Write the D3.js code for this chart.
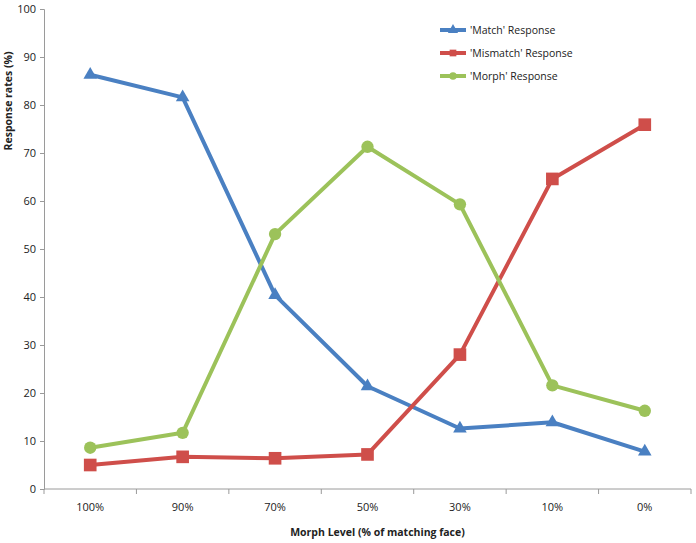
<!DOCTYPE html>
<html>
<head>
<meta charset="utf-8">
<script src="https://cdn.jsdelivr.net/npm/d3@7"></script>
<style>
  body { margin: 0; background: #fff; }
  text { font-family: "Open Sans", "DejaVu Sans", sans-serif; fill: #222; }
</style>
</head>
<body>
<div id="chart"></div>
<script>
var levels = ["100%", "90%", "70%", "50%", "30%", "10%", "0%"];
var matchResp = [86.3, 81.6, 40.4, 21.4, 12.6, 13.9, 7.8];
var mismatchResp = [5.0, 6.7, 6.4, 7.2, 28.0, 64.6, 75.9];
var morphResp = [8.6, 11.7, 53.1, 71.3, 59.3, 21.6, 16.3];
var yTicks = [0, 10, 20, 30, 40, 50, 60, 70, 80, 90, 100];

var W = 696, H = 543;
var margin = { top: 9, right: 5, bottom: 54, left: 44 },
    width = W - margin.left - margin.right,
    height = H - margin.top - margin.bottom;

var series = [
    { name: "'Match' Response", values: matchResp, color: "#4A80C2", shape: d3.symbolTriangle, size: 80 },
    { name: "'Mismatch' Response", values: mismatchResp, color: "#CF4E4A", shape: d3.symbolSquare, size: 160 },
    { name: "'Morph' Response", values: morphResp, color: "#9CC25A", shape: d3.symbolCircle, size: 120 }
];

var svg = d3.select("#chart").append("svg")
    .attr("width", W)
    .attr("height", H)
    .append("g")
    .attr("transform", "translate(" + margin.left + "," + margin.top + ")");

var x = d3.scaleBand().domain(levels).range([0, width]);
var y = d3.scaleLinear().domain([0, 100]).range([height, 0]);

// y axis
var yAxis = svg.append("g").call(d3.axisLeft(y).tickValues(yTicks).tickSize(4).tickPadding(4));
yAxis.select(".domain").attr("stroke", "#9a9a9a");
yAxis.selectAll(".tick line").attr("stroke", "#9a9a9a");
yAxis.selectAll("text").style("font-size", "11px").style("font-family", "'Open Sans', sans-serif").attr("fill", "#222");

// x axis, ticks sit on the band edges
var xg = svg.append("g").attr("transform", "translate(0," + height + ")");
xg.append("line").attr("x1", 0).attr("x2", width).attr("stroke", "#9a9a9a");
var edges = levels.map(function(d) { return x(d); }).concat([width]);
xg.selectAll(".edge").data(edges).enter().append("line")
    .attr("x1", function(d) { return d; }).attr("x2", function(d) { return d; })
    .attr("y1", 0).attr("y2", 5).attr("stroke", "#9a9a9a");
xg.selectAll(".lab").data(levels).enter().append("text")
    .attr("x", function(d) { return x(d) + x.bandwidth() / 2; })
    .attr("y", 22)
    .attr("text-anchor", "middle")
    .style("font-size", "11px")
    .text(function(d) { return d; });

// titles
svg.append("text")
    .attr("x", width / 2 + 10).attr("y", height + 47)
    .attr("text-anchor", "middle")
    .style("font-size", "10.5px").style("font-weight", "bold")
    .text("Morph Level (% of matching face)");
svg.append("text")
    .attr("transform", "translate(-32,92) rotate(-90)")
    .attr("text-anchor", "middle")
    .style("font-size", "10.5px").style("font-weight", "bold")
    .text("Response rates (%)");

var line = d3.line()
    .x(function(d, i) { return x(levels[i]) + x.bandwidth() / 2; })
    .y(function(d) { return y(d); });

series.forEach(function(s) {
    var g = svg.append("g");
    g.append("path")
        .attr("d", line(s.values))
        .attr("fill", "none")
        .attr("stroke", s.color)
        .attr("stroke-width", 4)
        .attr("stroke-linejoin", "round");
    g.selectAll("path.pt").data(s.values).enter().append("path")
        .attr("class", "pt")
        .attr("transform", function(d, i) {
            return "translate(" + (x(levels[i]) + x.bandwidth() / 2) + "," + y(d) + ")";
        })
        .attr("d", d3.symbol().type(s.shape).size(s.size))
        .attr("fill", s.color);
});

// legend
var legend = svg.append("g").attr("transform", "translate(396,21)");
series.forEach(function(s, i) {
    var lg = legend.append("g").attr("transform", "translate(0," + (i * 23) + ")");
    lg.append("line").attr("x1", 0).attr("x2", 26).attr("stroke", s.color).attr("stroke-width", 4);
    lg.append("path").attr("transform", "translate(13,0)")
        .attr("d", d3.symbol().type(s.shape).size(45)).attr("fill", s.color);
    lg.append("text").attr("x", 30).attr("y", 4).style("font-size", "10.5px").text(s.name);
});
</script>
</body>
</html>
